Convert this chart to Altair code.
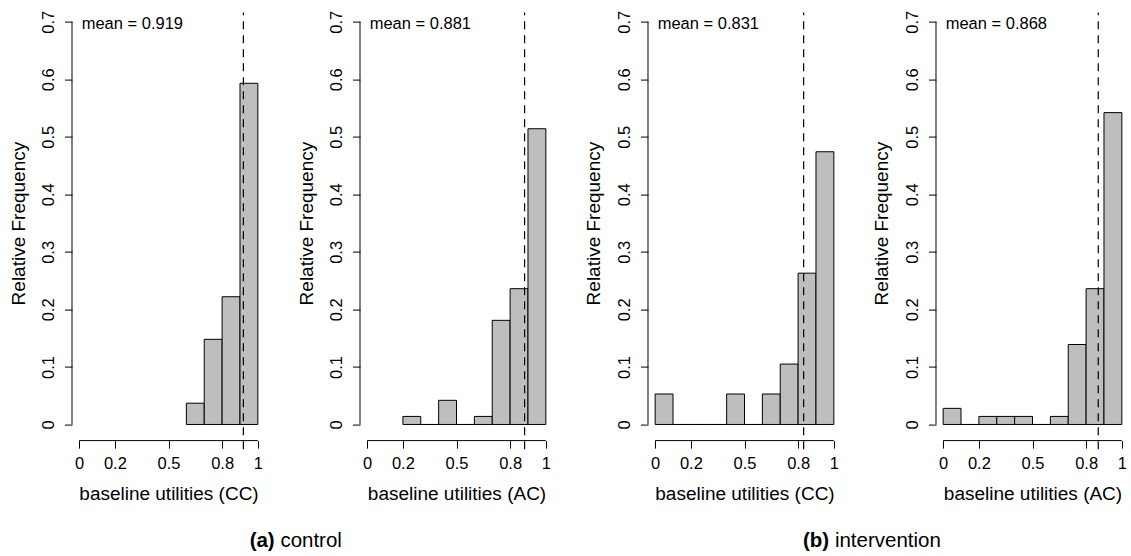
import altair as alt
import pandas as pd

FONT = "Liberation Sans"

# Histogram bins (left edges, width 0.1) and relative frequencies per panel
cc_control_bins = [0.6, 0.7, 0.8, 0.9]
cc_control_freq = [0.037, 0.148, 0.222, 0.593]

ac_control_bins = [0.2, 0.3, 0.4, 0.5, 0.6, 0.7, 0.8, 0.9]
ac_control_freq = [0.014, 0.0, 0.042, 0.0, 0.014, 0.181, 0.236, 0.514]

cc_interv_bins = [0.0, 0.1, 0.2, 0.3, 0.4, 0.5, 0.6, 0.7, 0.8, 0.9]
cc_interv_freq = [0.053, 0.0, 0.0, 0.0, 0.053, 0.0, 0.053, 0.105, 0.263, 0.474]

ac_interv_bins = [0.0, 0.1, 0.2, 0.3, 0.4, 0.5, 0.6, 0.7, 0.8, 0.9]
ac_interv_freq = [0.028, 0.0, 0.014, 0.014, 0.014, 0.0, 0.014, 0.139, 0.236, 0.542]

means = [0.919, 0.881, 0.831, 0.868]
x_titles = ["baseline utilities (CC)", "baseline utilities (AC)",
            "baseline utilities (CC)", "baseline utilities (AC)"]

x_ticks = [0, 0.2, 0.5, 0.8, 1]
y_ticks = [0, 0.1, 0.2, 0.3, 0.4, 0.5, 0.6, 0.7]
BIN_W = 0.1

W, H = 193, 435


def panel(bins, freq, mean, xtitle, caption=None):
    df = pd.DataFrame({
        "lo": bins,
        "hi": [round(b + BIN_W, 2) for b in bins],
        "freq": freq,
    })
    xs = alt.Scale(domain=[-0.04, 1.04], nice=False, zero=False)
    ys = alt.Scale(domain=[-0.028, 0.728], nice=False, zero=False)

    bars = alt.Chart(df).mark_rect(
        fill="#BEBEBE", stroke="black", strokeWidth=1
    ).encode(
        x=alt.X("lo:Q", scale=xs, axis=alt.Axis(
            values=x_ticks, format="~g", title=xtitle,
            domain=False, grid=False, tickSize=7.5, tickColor="black",
            tickWidth=1, labelFontSize=16.5, labelFont=FONT,
            labelColor="black", labelPadding=20.4,
            labelBaseline="alphabetic", labelFlush=False,
            labelOverlap=False, labelBound=False,
            titleFont=FONT, titleFontSize=19, titleFontWeight="normal",
            titleColor="black", titleY=58.5, titleBaseline="alphabetic",
        )),
        x2="hi:Q",
        y=alt.Y("freq:Q", scale=ys, axis=alt.Axis(
            values=y_ticks,
            labelExpr="datum.value == 0 ? '0' : format(datum.value, '.1f')",
            title="Relative Frequency",
            domain=False, grid=False, tickSize=7.5, tickColor="black",
            tickWidth=1, labelFontSize=16.5, labelFont=FONT,
            labelColor="black", labelAngle=270, labelAlign="center",
            labelBaseline="alphabetic", labelPadding=10.8,
            labelFlush=False, labelOverlap=False, labelBound=False,
            titleFont=FONT, titleFontSize=19, titleFontWeight="normal",
            titleColor="black", titleAngle=270, titleX=-48,
            titleY=H / 2, titleBaseline="alphabetic",
        )),
        y2=alt.datum(0),
    )

    # axis lines spanning only first to last tick
    x_line = alt.Chart(pd.DataFrame({"a": [x_ticks[0]], "b": [x_ticks[-1]]})).mark_rule(
        color="black", strokeWidth=1
    ).encode(x=alt.X("a:Q"), x2="b:Q", y=alt.datum(-0.028))
    y_line = alt.Chart(pd.DataFrame({"a": [y_ticks[0]], "b": [y_ticks[-1]]})).mark_rule(
        color="black", strokeWidth=1
    ).encode(y=alt.Y("a:Q"), y2="b:Q", x=alt.datum(-0.04))

    mean_line = alt.Chart(pd.DataFrame({"m": [mean]})).mark_rule(
        color="black", strokeWidth=1.2, strokeDash=[8, 6]
    ).encode(x=alt.X("m:Q"), y=alt.datum(-0.043), y2=alt.datum(0.716))

    mean_text = alt.Chart(pd.DataFrame({"t": [f"mean = {mean:.3f}"]})).mark_text(
        align="left", baseline="alphabetic", fontSize=16.5, font=FONT, color="black"
    ).encode(text="t:N", x=alt.value(9.7), y=alt.value(23.4))

    layers = [bars, x_line, y_line, mean_line, mean_text]

    if caption is not None:
        tag, word, x_tag = caption
        cap_df = pd.DataFrame({"tag": [tag], "word": [word]})
        tag_text = alt.Chart(cap_df).mark_text(
            align="right", baseline="alphabetic", fontSize=20.5, font=FONT,
            fontWeight="bold", color="black"
        ).encode(text="tag:N", x=alt.value(x_tag), y=alt.value(541.1))
        word_text = alt.Chart(cap_df).mark_text(
            align="left", baseline="alphabetic", fontSize=20.5, font=FONT,
            color="black"
        ).encode(text="word:N", x=alt.value(x_tag + 5.7), y=alt.value(541.1))
        layers += [tag_text, word_text]

    return alt.layer(*layers).properties(width=W, height=H)


p1 = panel(cc_control_bins, cc_control_freq, means[0], x_titles[0], ("(a)", "control", 202.7))
p2 = panel(ac_control_bins, ac_control_freq, means[1], x_titles[1])
p3 = panel(cc_interv_bins, cc_interv_freq, means[2], x_titles[2], ("(b)", "intervention", 181.2))
p4 = panel(ac_interv_bins, ac_interv_freq, means[3], x_titles[3])

chart = alt.hconcat(p1, p2, p3, p4, spacing=95, bounds="flush").properties(
    padding={"left": 9, "top": 5.6, "right": 0, "bottom": 0},
    background="white",
).configure_view(stroke=None)

chart.save("out.html", embed_options={"renderer": "svg", "actions": False})
